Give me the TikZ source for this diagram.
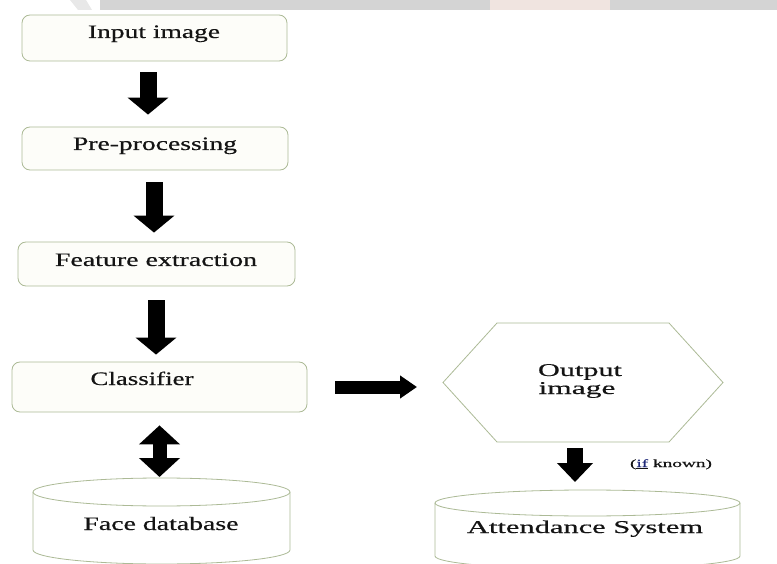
\documentclass[tikz,border=0pt]{standalone}
\usepackage{fontspec}
\setmainfont{Liberation Serif}[FakeBold=0.4]
\usepackage{graphicx}
\usetikzlibrary{arrows.meta}
\definecolor{bord}{RGB}{172,186,150}
\definecolor{boxfill}{RGB}{253,253,249}
\definecolor{ink}{RGB}{20,20,20}
\definecolor{band}{RGB}{212,212,212}
\definecolor{bandlight}{RGB}{232,232,232}
\definecolor{bandpink}{RGB}{240,228,224}
\definecolor{navyink}{RGB}{30,40,120}
\newcommand{\lbl}[2]{\resizebox{#1pt}{\height}{#2}}
\begin{document}
\begin{tikzpicture}[x=1pt,y=-1pt,
  box/.style={draw=bord, fill=boxfill, rounded corners=8pt, line width=0.8pt, inner sep=0pt},
  holder/.style={inner sep=0pt, outer sep=0pt},
  shapeline/.style={draw=bord, fill=white, line width=0.8pt},
  txt/.style={anchor=base, inner sep=0pt, text=ink, font=\fontsize{19}{22}\selectfont},
  txtr/.style={anchor=base, inner sep=0pt, text=ink, font=\fontsize{18}{21}\selectfont},
  fat/.style={line width=17pt, draw=black, -{Triangle[width=40pt,length=17pt]}},
  fatboth/.style={line width=14pt, draw=black, {Triangle[width=40pt,length=19pt]}-{Triangle[width=40pt,length=19pt]}},
  fatside/.style={line width=13pt, draw=black, -{Triangle[width=22pt,length=17pt]}},
  fatsmall/.style={line width=16pt, draw=black, -{Triangle[width=35pt,length=19pt]}}
]
\useasboundingbox (0,0) rectangle (777,564);
% scanned page band at top
\fill[band] (100,0) rectangle (777,10);
\fill[bandlight] (70,0) -- (86,0) -- (92,10) -- (78,10) -- cycle;
\fill[bandpink] (490,0) rectangle (610,10);

% left column boxes
\node[box, minimum width=265pt, minimum height=46pt] (in) at (154.5,38) {};
\node[box, minimum width=266pt, minimum height=43pt] (pre) at (155,148.5) {};
\node[box, minimum width=277pt, minimum height=44pt] (feat) at (156.5,264) {};
\node[box, minimum width=295pt, minimum height=50pt] (cls) at (159.5,387) {};

\node[txt] (inT) at (154,38) {\lbl{132}{Input image}};
\node[txt] (preT) at (155,150) {\lbl{164}{Pre-processing}};
\node[txt] (featT) at (156,266) {\lbl{202}{Feature extraction}};
\node[txt] (clsT) at (142,385) {\lbl{103}{Classifier}};

% face database cylinder
\node[holder, minimum width=257pt, minimum height=86pt] (fdb) at (161.5,521) {};
\draw[shapeline] (33,492) -- (33,550) .. controls (33,557.7) and (90.5,564) .. (161.5,564)
  .. controls (232.5,564) and (290,557.7) .. (290,550) -- (290,492);
\draw[shapeline] (161.5,492) ellipse [x radius=128.5pt, y radius=14pt];
\node[txt] (fdbT) at (161,530) {\lbl{155}{Face database}};

% output hexagon
\node[holder, minimum width=280pt, minimum height=119pt] (out) at (583,382.5) {};
\draw[shapeline] (out.west) -- ([xshift=-86pt]out.north) -- ([xshift=86pt]out.north)
  -- (out.east) -- ([xshift=86pt]out.south) -- ([xshift=-86pt]out.south) -- cycle;
\node[txtr] (outT1) at (580,376) {\lbl{84}{Output}};
\node[txtr] (outT2) at (577,394) {\lbl{77}{image}};

% attendance system cylinder
\node[holder, minimum width=305pt, minimum height=74pt] (att) at (587.5,527) {};
\draw[shapeline] (435,503) -- (435,556) .. controls (435,563.2) and (503.3,569) .. (587.5,569)
  .. controls (671.7,569) and (740,563.2) .. (740,556) -- (740,503);
\draw[shapeline] (587.5,503) ellipse [x radius=152.5pt, y radius=13pt];
\node[txtr] (attT) at (585,533) {\lbl{236}{Attendance System}};

\node[anchor=base, inner sep=0pt, text=ink, font=\fontsize{11}{13}\selectfont] (known) at (671,467)
  {\lbl{82}{(\underline{\textcolor{navyink}{if}} known)}};

% connectors
\draw[fat, shorten <=11pt, shorten >=12pt] ([xshift=-6.5pt]in.south) -- ([xshift=-7pt]pre.north);
\draw[fat, shorten <=12pt, shorten >=9pt] ([xshift=-1pt]pre.south) -- ([xshift=-2.5pt]feat.north);
\draw[fat, shorten <=14pt, shorten >=7pt] ([xshift=-0.5pt]feat.south) -- ([xshift=-3.5pt]cls.north);
\draw[fatboth, shorten <=13pt, shorten >=1pt] (cls.south) -- (cls.south |- fdb.north);
\draw[fatside, shorten <=28pt, shorten >=26pt] (cls.east) -- (cls.east -| out.west);
\draw[fatsmall, shorten <=6pt, shorten >=8pt] ([xshift=-8pt]out.south) -- ([xshift=-8pt]out.south |- att.north);
\end{tikzpicture}
\end{document}
